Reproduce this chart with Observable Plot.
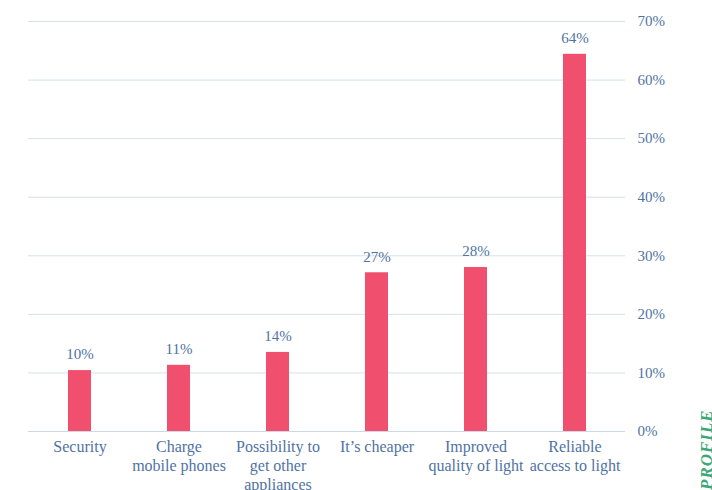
<!DOCTYPE html>
<html>
<head>
<meta charset="utf-8">
<script src="https://cdn.jsdelivr.net/npm/d3@7"></script>
<script src="https://cdn.jsdelivr.net/npm/@observablehq/plot@0.6"></script>
<style>
  html, body { margin: 0; padding: 0; background: #fff; }
  #wrap { position: relative; width: 712px; height: 490px; overflow: hidden; }
  #side { position: absolute; left: 697px; top: 490px; transform: rotate(-90deg); transform-origin: 0 0;
          font: italic bold 17px "Liberation Serif", serif; color: #3aa776; letter-spacing: 1px; white-space: nowrap; }
</style>
</head>
<body>
<div id="wrap"><div id="side">PROFILE</div></div>
<script>
const categories = ["Security", "Charge mobile phones", "Possibility to get other appliances", "It’s cheaper", "Improved quality of light", "Reliable access to light"];
const tickLabels = ["Security", "Charge\nmobile phones", "Possibility to\nget other\nappliances", "It’s cheaper", "Improved\nquality of light", "Reliable\naccess to light"];
const values = [10.4, 11.3, 13.5, 27.1, 28.0, 64.4];
const valueLabels = ["10%", "11%", "14%", "27%", "28%", "64%"];
const yTicks = [0, 10, 20, 30, 40, 50, 60, 70];

const data = categories.map((c, i) => ({cat: c, v: values[i], label: valueLabels[i]}));
const textColor = "#4f73a3";
const font = "'Liberation Serif', 'DejaVu Serif', serif";

const chart = Plot.plot({
  width: 712,
  height: 490,
  marginTop: 21,
  marginBottom: 59,
  marginLeft: 28,
  marginRight: 87,
  style: {fontFamily: font, fontSize: "15px", color: textColor, background: "#fff"},
  x: {domain: categories, paddingInner: 0.77, paddingOuter: 0.385, align: 0.5},
  y: {domain: [0, 70]},
  marks: [
    Plot.gridY(yTicks, {stroke: "#d5e0ea", strokeOpacity: 1, strokeWidth: 1}),
    Plot.ruleY([0], {stroke: "#cdd9e5", strokeWidth: 1.2}),
    Plot.barY(data, {x: "cat", y: "v", fill: "#f0506e", inset: 0}),
    Plot.text(data, {x: "cat", y: "v", text: "label", dy: -16, fill: textColor, fontSize: 15}),
    Plot.axisY(yTicks, {anchor: "right", tickSize: 0, tickPadding: 12, tickFormat: d => d + "%", fill: textColor, fontSize: 15, label: null}),
    Plot.axisX({anchor: "bottom", tickSize: 0, tickPadding: 7, tickFormat: d => tickLabels[categories.indexOf(d)], fill: textColor, fontSize: 16, lineHeight: 1.19, label: null})
  ]
});
document.getElementById("wrap").prepend(chart);
</script>
</body>
</html>
